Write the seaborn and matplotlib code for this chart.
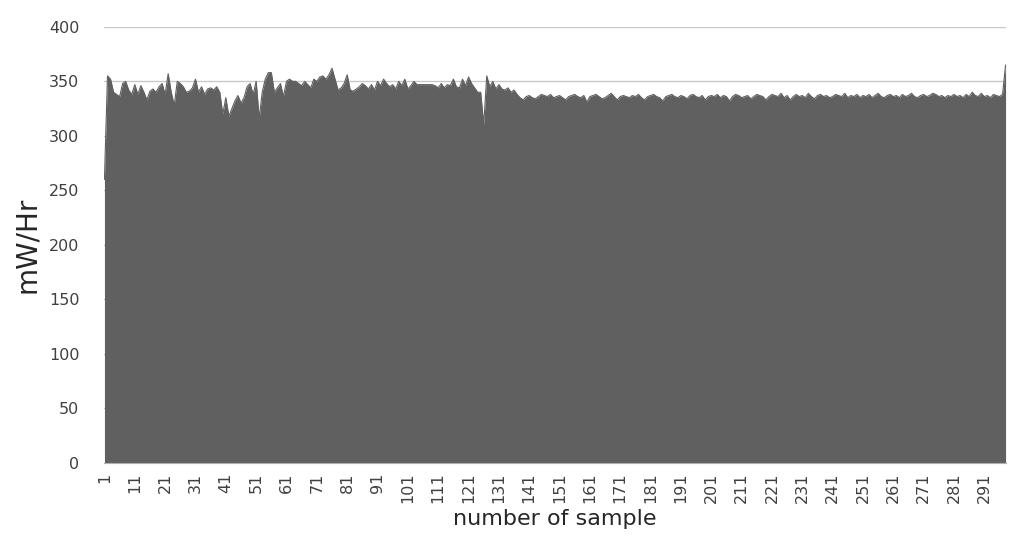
import numpy as np
import pandas as pd
import matplotlib.pyplot as plt
import seaborn as sns

# power readings per sample
values = [
    260, 355, 352, 340, 338, 336, 348, 350, 342, 338,
    347, 338, 346, 340, 333, 341, 343, 340, 345, 348,
    338, 357, 340, 328, 350, 348, 345, 340, 341, 344,
    352, 340, 345, 338, 343, 344, 342, 345, 340, 320,
    335, 318, 325, 332, 337, 330, 335, 345, 348, 338,
    350, 316, 340, 352, 358, 358, 340, 344, 348, 336,
    350, 352, 350, 350, 348, 346, 350, 347, 344, 352,
    350, 354, 355, 352, 356, 362, 352, 342, 344, 348,
    356, 342, 341, 343, 345, 348, 346, 343, 347, 342,
    350, 346, 352, 348, 345, 347, 343, 350, 346, 352,
    343, 346, 350, 347, 347, 347, 347, 347, 347, 346,
    344, 348, 344, 347, 346, 352, 345, 344, 352, 346,
    354, 348, 344, 340, 340, 310, 355, 345, 350, 343,
    347, 343, 342, 344, 340, 342, 338, 335, 333, 336,
    337, 335, 334, 336, 338, 337, 336, 338, 335, 336,
    337, 335, 333, 336, 337, 338, 336, 335, 337, 331,
    336, 337, 338, 336, 334, 335, 337, 339, 336, 333,
    336, 337, 336, 335, 337, 336, 338, 335, 333, 336,
    337, 338, 336, 335, 332, 336, 337, 338, 336, 335,
    337, 336, 334, 337, 338, 336, 335, 337, 333, 336,
    337, 336, 338, 335, 337, 336, 332, 336, 338, 337,
    335, 336, 337, 334, 336, 338, 337, 336, 333, 336,
    338, 337, 336, 339, 335, 337, 333, 336, 338, 336,
    337, 335, 339, 336, 334, 337, 338, 336, 337, 335,
    336, 338, 337, 336, 339, 335, 337, 336, 338, 335,
    337, 336, 338, 335, 337, 339, 336, 335, 337, 338,
    336, 337, 335, 338, 336, 337, 339, 336, 335, 337,
    338, 336, 337, 339, 338, 336, 337, 335, 337, 336,
    338, 336, 337, 335, 338, 336, 340, 337, 336, 339,
    336, 337, 335, 338, 337, 336, 338, 365,
]
samples = list(range(1, len(values) + 1))
tick_labels = list(range(1, 300, 10))

df = pd.DataFrame({"sample": samples, "power": values})

sns.set_style("white")
fig, ax = plt.subplots(figsize=(10.24, 5.59), dpi=100)
fig.subplots_adjust(left=0.102, right=0.982, top=0.952, bottom=0.172)

ax.fill_between(df["sample"], df["power"], 0, color="#606060", lw=0, zorder=2)
sns.lineplot(data=df, x="sample", y="power", color="#606060", lw=0.8, ax=ax, zorder=2)

ax.set_xlim(1, len(values))
ax.set_ylim(0, 400)
ax.set_yticks(range(0, 401, 50))
ax.set_xticks(tick_labels)
ax.set_xticklabels([str(t) for t in tick_labels], rotation=90)
ax.yaxis.grid(True, color="#c8c8c8", lw=1, zorder=0)
ax.set_axisbelow(True)
for s in ["top", "right", "left"]:
    ax.spines[s].set_visible(False)
ax.spines["bottom"].set_color("#b0b0b0")
ax.tick_params(axis="both", labelsize=11.5, colors="#404040", length=0)
ax.tick_params(axis="x", pad=7)
ax.tick_params(axis="y", pad=18)
ax.set_xlabel("number of sample", fontsize=16, color="#262626")
ax.set_ylabel("mW/Hr", fontsize=20, color="#262626", labelpad=6)

plt.savefig("out.png")
